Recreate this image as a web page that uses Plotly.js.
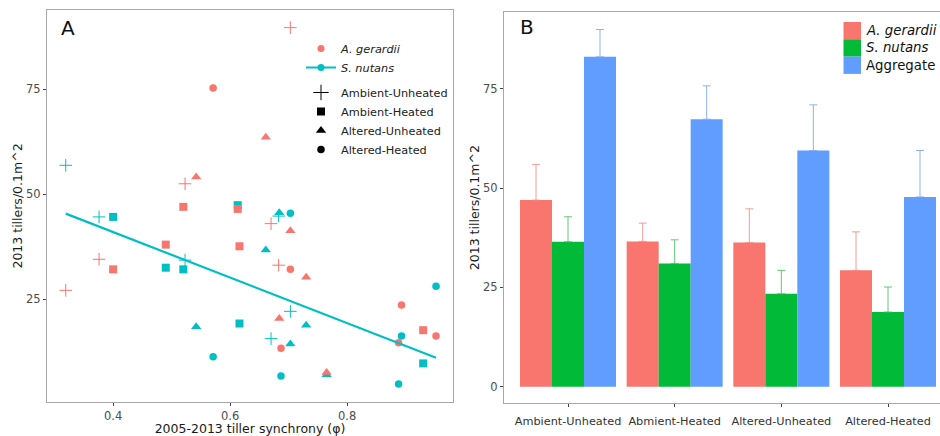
<!DOCTYPE html>
<html>
<head>
<meta charset="utf-8">
<script src="https://cdn.plot.ly/plotly-3.0.1.min.js"></script>
<style>
  html, body { margin: 0; padding: 0; overflow: hidden; background: #fff; }
  #chart { width: 955px; height: 436px; }
</style>
</head>
<body>
<div id="chart"></div>
<script>
// ---- Panel A: tiller counts vs. 2005-2013 synchrony, by treatment ----
// synchrony (phi) of each plot, per treatment
const phiAmbUnheated = [0.319, 0.376, 0.523, 0.670, 0.683, 0.703];
const phiAmbHeated   = [0.400, 0.490, 0.520, 0.613, 0.616, 0.930];
const phiAltUnheated = [0.542, 0.661, 0.684, 0.703, 0.730, 0.765];
const phiAltHeated   = [0.571, 0.687, 0.703, 0.888, 0.893, 0.952];

// 2013 tillers / 0.1 m^2, A. gerardii
const agAmbUnheated = [27.1, 34.5, 52.5, 43.0, 33.1, 89.7];
const agAmbHeated   = [32.1, 38.0, 47.0, 46.5, 37.6, 17.6];
const agAltUnheated = [54.1, 63.6, 20.4, 41.3, 30.2, 7.5];
const agAltHeated   = [75.3, 13.3, 32.1, 14.6, 23.6, 16.2];

// 2013 tillers / 0.1 m^2, S. nutans
const snAmbUnheated = [56.9, 44.6, 34.3, 15.6, 44.8, 22.1];
const snAmbHeated   = [44.6, 32.5, 32.1, 47.4, 19.2, 9.7];
const snAltUnheated = [18.4, 36.7, 45.6, 14.3, 18.8, 7.0];
const snAltHeated   = [11.3, 6.7, 45.5, 4.8, 16.2, 28.1];

const treatments = ['Ambient-Unheated', 'Ambient-Heated', 'Altered-Unheated', 'Altered-Heated'];

// ---- Panel B: mean tillers per treatment with upper standard error ----
const barCategories = ['Ambient-Unheated', 'Abmient-Heated', 'Altered-Unheated', 'Altered-Heated'];
const meanGerardii  = [47.0, 36.6, 36.3, 29.3];
const seGerardii    = [9.0, 4.6, 8.5, 9.7];
const meanNutans    = [36.5, 31.0, 23.4, 18.8];
const seNutans      = [6.3, 6.0, 5.9, 6.3];
const meanAggregate = [83.1, 67.4, 59.5, 47.8];
const seAggregate   = [6.9, 8.4, 11.5, 11.7];

// ---- styling ----
const W = 955, H = 436;
const RED = '#F8766D', TEAL = '#00BFC4', GREEN = '#00BA38', BLUE = '#619CFF';
const FONT = 'DejaVu Sans, sans-serif';
const px = v => v / W;          // horizontal pixel -> paper
const py = v => 1 - v / H;      // vertical pixel -> paper

const symbolOf = {
  'Ambient-Unheated': {symbol: 'cross-thin-open', size: 9, lineW: 1},
  'Ambient-Heated':   {symbol: 'square', size: 8, lineW: 0},
  'Altered-Unheated': {symbol: 'triangle-up', size: 9, lineW: 0},
  'Altered-Heated':   {symbol: 'circle', size: 7.5, lineW: 0}
};

const phiSets = [phiAmbUnheated, phiAmbHeated, phiAltUnheated, phiAltHeated];
const agSets  = [agAmbUnheated, agAmbHeated, agAltUnheated, agAltHeated];
const snSets  = [snAmbUnheated, snAmbHeated, snAltUnheated, snAltHeated];

function pointTrace(xs, ys, treat, color) {
  const s = symbolOf[treat];
  return {
    type: 'scatter', mode: 'markers', x: xs, y: ys, xaxis: 'x', yaxis: 'y',
    showlegend: false, hoverinfo: 'x+y',
    marker: {symbol: s.symbol, size: s.size, color: color,
             line: {color: color, width: s.lineW}}
  };
}

const traces = [];
treatments.forEach((t, i) => traces.push(pointTrace(phiSets[i], snSets[i], t, TEAL)));
treatments.forEach((t, i) => traces.push(pointTrace(phiSets[i], agSets[i], t, RED)));

// least-squares fit of S. nutans tillers on synchrony
const allPhi = [].concat(...phiSets);
const allSn = [].concat(...snSets);
const n = allPhi.length;
const mx = allPhi.reduce((a, b) => a + b, 0) / n;
const my = allSn.reduce((a, b) => a + b, 0) / n;
let sxy = 0, sxx = 0;
for (let i = 0; i < n; i++) { sxy += (allPhi[i] - mx) * (allSn[i] - my); sxx += (allPhi[i] - mx) ** 2; }
const slope = sxy / sxx, intercept = my - slope * mx;
const fitX = [Math.min(...allPhi), Math.max(...allPhi)];
traces.push({
  type: 'scatter', mode: 'lines', x: fitX, y: fitX.map(v => intercept + slope * v),
  xaxis: 'x', yaxis: 'y', showlegend: false, hoverinfo: 'skip',
  line: {color: TEAL, width: 2.2}
});

// legend keys for panel A (species, then treatment shapes)
traces.push({type: 'scatter', mode: 'markers', x: [null], y: [null], xaxis: 'x', yaxis: 'y',
  name: '<i>A. gerardii</i>', legend: 'legend', marker: {symbol: 'circle', size: 7, color: RED}});
traces.push({type: 'scatter', mode: 'lines+markers', x: [null], y: [null], xaxis: 'x', yaxis: 'y',
  name: '<i>S. nutans</i>', legend: 'legend', marker: {symbol: 'circle', size: 7, color: TEAL},
  line: {color: TEAL, width: 2}});
treatments.forEach(t => {
  const s = symbolOf[t];
  traces.push({type: 'scatter', mode: 'markers', x: [null], y: [null], xaxis: 'x', yaxis: 'y',
    name: t, legend: 'legend2',
    marker: {symbol: s.symbol, size: s.size + (s.lineW ? 2 : 0), color: '#000',
             line: {color: '#000', width: s.lineW}}});
});

// panel B bars
function barTrace(name, means, se, color, errColor) {
  return {
    type: 'bar', name: name, x: barCategories, y: means, xaxis: 'x2', yaxis: 'y2',
    marker: {color: color, line: {width: 0}}, showlegend: false,
    error_y: {type: 'data', symmetric: false, array: se, arrayminus: se.map(() => 0),
              color: errColor, thickness: 1, width: 4}
  };
}
traces.push(barTrace('A. gerardii', meanGerardii, seGerardii, RED, 'rgba(244,140,132,0.85)'));
traces.push(barTrace('S. nutans', meanNutans, seNutans, GREEN, 'rgba(70,190,100,0.85)'));
traces.push(barTrace('Aggregate', meanAggregate, seAggregate, BLUE, 'rgba(130,170,240,0.9)'));

const axisCommon = {
  showgrid: false, zeroline: false, showline: true, linecolor: '#a8a8a8', linewidth: 1,
  mirror: true, ticks: 'outside', ticklen: 3, tickwidth: 1, tickcolor: '#444',
  tickfont: {family: FONT, size: 11.5, color: '#4d4d4d'}
};
const titleFont = {family: FONT, size: 12.5, color: '#1a1a1a'};

// legend for panel B: colour keys stacked with labels
const keyTop = 22, keyH = 17.3, keyL = 843.5, keyR = 861;
const legendColors = [RED, GREEN, BLUE];
const legendNames = ['<i>A. gerardii</i>', '<i>S. nutans</i>', 'Aggregate'];
const shapes = legendColors.map((c, i) => ({
  type: 'rect', xref: 'paper', yref: 'paper', layer: 'above',
  x0: px(keyL), x1: px(keyR), y0: py(keyTop + keyH * (i + 1)), y1: py(keyTop + keyH * i),
  fillcolor: c, line: {width: 0}
}));
const annotations = legendNames.map((t, i) => ({
  text: t, xref: 'paper', yref: 'paper', x: px(864), y: py(keyTop + keyH * (i + 0.5)),
  xanchor: 'left', yanchor: 'middle', showarrow: false,
  font: {family: FONT, size: 13.3, color: '#111'}
}));
annotations.push({text: 'A', xref: 'paper', yref: 'paper', x: px(68), y: py(28),
  xanchor: 'center', yanchor: 'middle', showarrow: false, font: {family: FONT, size: 20, color: '#111'}});
annotations.push({text: 'B', xref: 'paper', yref: 'paper', x: px(527), y: py(27),
  xanchor: 'center', yanchor: 'middle', showarrow: false, font: {family: FONT, size: 20, color: '#111'}});

const legendFont = {family: FONT, size: 11.3, color: '#222'};

const layout = {
  width: W, height: H, margin: {l: 0, r: 0, t: 0, b: 0},
  paper_bgcolor: '#fff', plot_bgcolor: '#fff',
  font: {family: FONT, color: '#222'},
  barmode: 'group', bargap: 0.1, bargroupgap: 0,
  xaxis: Object.assign({}, axisCommon, {
    domain: [px(47), px(453)], range: [0.287, 0.981], anchor: 'y',
    tickvals: [0.4, 0.6, 0.8], ticktext: ['0.4', '0.6', '0.8'],
    title: {text: '2005-2013 tiller synchrony (φ)', font: titleFont, standoff: 2}
  }),
  yaxis: Object.assign({}, axisCommon, {
    domain: [py(402), py(10)], range: [0.5, 93.9], anchor: 'x',
    tickvals: [25, 50, 75],
    title: {text: '2013 tillers/0.1m^2', font: titleFont, standoff: 0}
  }),
  xaxis2: Object.assign({}, axisCommon, {
    domain: [px(504), px(952)], range: [-0.6, 3.6], anchor: 'y2', type: 'category',
    ticklabelstandoff: 4,
    tickfont: {family: FONT, size: 11.3, color: '#333'}
  }),
  yaxis2: Object.assign({}, axisCommon, {
    domain: [py(403.3), py(12)], range: [-4.2, 94.4], anchor: 'x2',
    tickvals: [0, 25, 50, 75],
    title: {text: '2013 tillers/0.1m^2', font: titleFont, standoff: 0}
  }),
  legend: {x: px(301), y: py(34), xanchor: 'left', yanchor: 'top', bgcolor: 'rgba(0,0,0,0)',
           font: legendFont, tracegroupgap: 0, itemwidth: 30},
  legend2: {x: px(301), y: py(78), xanchor: 'left', yanchor: 'top', bgcolor: 'rgba(0,0,0,0)',
            font: legendFont, tracegroupgap: 0, itemwidth: 30},
  shapes: shapes,
  annotations: annotations
};

Plotly.newPlot('chart', traces, layout, {displayModeBar: false, staticPlot: true});
</script>
</body>
</html>
